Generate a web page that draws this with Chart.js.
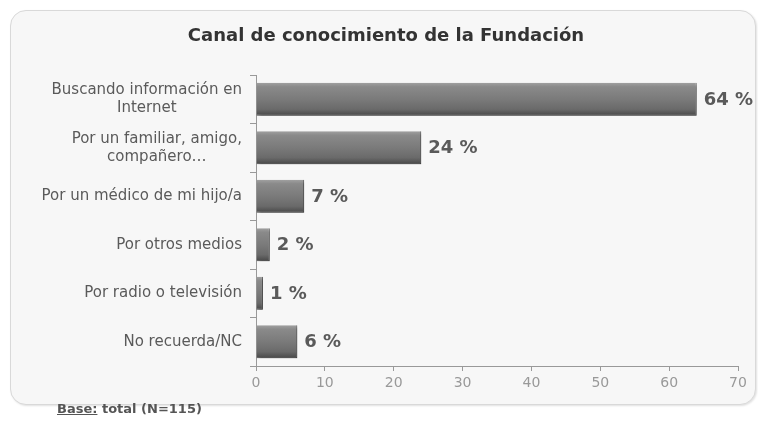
<!DOCTYPE html>
<html>
<head>
<meta charset="utf-8">
<script src="https://cdn.jsdelivr.net/npm/chart.js@4/dist/chart.umd.min.js"></script>
<style>
  html, body { margin: 0; padding: 0; background: #ffffff; }
  #wrap { position: relative; width: 758px; height: 428px; overflow: hidden; }
  #panel {
    position: absolute; left: 10px; top: 10px; width: 744px; height: 393px;
    background: #f7f7f7; border: 1px solid #d9d9d9; border-radius: 16px;
    box-shadow: 1px 1px 2px rgba(0,0,0,0.12);
  }
  #chart { position: absolute; left: 0; top: 0; }
  #note {
    position: absolute; left: 57px; top: 401px;
    font: bold 13px "DejaVu Sans", Verdana, sans-serif; color: #555; line-height: 16px;
  }
  #note u { text-decoration: underline; }
</style>
</head>
<body>
<div id="wrap">
  <div id="panel"></div>
  <canvas id="chart" width="758" height="428"></canvas>
  <div id="note"><u>Base:</u> total (N=115)</div>
</div>
<script>
// Survey answers: how people learned about the foundation
const categories = [
  ['Buscando información en', 'Internet'],
  ['Por un familiar, amigo,', 'compañero…'],
  'Por un médico de mi hijo/a',
  'Por otros medios',
  'Por radio o televisión',
  'No recuerda/NC'
];
const values = [64, 24, 7, 2, 1, 6];
const axisMin = 0;
const axisMax = 70;
const axisStep = 10;
const chartTitle = 'Canal de conocimiento de la Fundación';

const FONT = '"DejaVu Sans", Verdana, sans-serif';
const BAR_PCT = 0.68;

// Vertical metallic gradient for each bar, built from the category scale
function barFill(context) {
  const chart = context.chart;
  const y = chart.scales && chart.scales.y;
  if (!y || !chart.chartArea) return '#777';
  const cy = y.getPixelForValue(context.dataIndex);
  const half = (y.height / categories.length) * BAR_PCT / 2;
  const g = chart.ctx.createLinearGradient(0, cy - half, 0, cy + half);
  g.addColorStop(0, '#a0a0a0');
  g.addColorStop(0.12, '#8a8a8a');
  g.addColorStop(0.5, '#7a7a7a');
  g.addColorStop(0.8, '#6a6a6a');
  g.addColorStop(1, '#474747');
  return g;
}

// Soft drop shadow under the bars
const barShadow = {
  id: 'barShadow',
  beforeDatasetsDraw(chart) {
    const ctx = chart.ctx;
    ctx.save();
    ctx.shadowColor = 'rgba(0,0,0,0.35)';
    ctx.shadowBlur = 3;
    ctx.shadowOffsetX = 2;
    ctx.shadowOffsetY = 2;
  },
  afterDatasetsDraw(chart) {
    chart.ctx.restore();
  }
};

// Category labels: block right-aligned to the axis, lines centred inside the block
const yLabels = {
  id: 'yLabels',
  afterDraw(chart) {
    const { ctx, scales: { y } } = chart;
    ctx.save();
    ctx.font = '15px ' + FONT;
    ctx.fillStyle = '#5a5a5a';
    ctx.textBaseline = 'middle';
    ctx.textAlign = 'center';
    const right = y.right - 14;
    const lh = 18;
    categories.forEach((lab, i) => {
      const lines = Array.isArray(lab) ? lab : [lab];
      const w = Math.max(...lines.map(l => ctx.measureText(l).width));
      const cx = right - w / 2;
      const cy = y.getPixelForValue(i);
      lines.forEach((l, k) => ctx.fillText(l, cx, cy + (k - (lines.length - 1) / 2) * lh));
    });
    ctx.restore();
  }
};

// Percentage labels at the end of each bar
const valueLabels = {
  id: 'valueLabels',
  afterDatasetsDraw(chart) {
    const ctx = chart.ctx;
    const meta = chart.getDatasetMeta(0);
    ctx.save();
    ctx.font = 'bold 18px ' + FONT;
    ctx.fillStyle = '#5a5a5a';
    ctx.textAlign = 'left';
    ctx.textBaseline = 'middle';
    meta.data.forEach((bar, i) => {
      ctx.fillText(values[i] + ' %', bar.x + 7, bar.y + 1);
    });
    ctx.restore();
  }
};

new Chart(document.getElementById('chart'), {
  type: 'bar',
  data: {
    labels: categories,
    datasets: [{
      data: values,
      backgroundColor: barFill,
      borderColor: '#4a4a4a',
      borderWidth: { top: 0, left: 0, right: 1, bottom: 1 },
      borderSkipped: 'left',
      barPercentage: BAR_PCT,
      categoryPercentage: 1
    }]
  },
  options: {
    indexAxis: 'y',
    responsive: false,
    animation: false,
    events: [],
    layout: { padding: { left: 34, right: 20, top: 10, bottom: 36 } },
    plugins: {
      legend: { display: false },
      tooltip: { enabled: false },
      title: {
        display: true,
        text: chartTitle,
        color: '#333',
        font: { family: FONT, size: 18, weight: 'bold' },
        padding: { top: 16, bottom: 27.5 }
      }
    },
    scales: {
      y: {
        type: 'category',
        offset: true,
        grid: { offset: true, drawOnChartArea: false, drawTicks: true, tickLength: 6, color: '#999' },
        border: { color: '#999' },
        ticks: { display: false },
        afterFit(scale) { scale.width = 222; }
      },
      x: {
        type: 'linear',
        min: axisMin,
        max: axisMax,
        grid: { drawOnChartArea: false, drawTicks: true, tickLength: 5, color: '#999' },
        border: { color: '#999' },
        ticks: { stepSize: axisStep, color: '#999', padding: 4, font: { family: FONT, size: 14 } },
        afterFit(scale) { scale.height = 26; }
      }
    }
  },
  plugins: [barShadow, yLabels, valueLabels]
});
</script>
</body>
</html>
